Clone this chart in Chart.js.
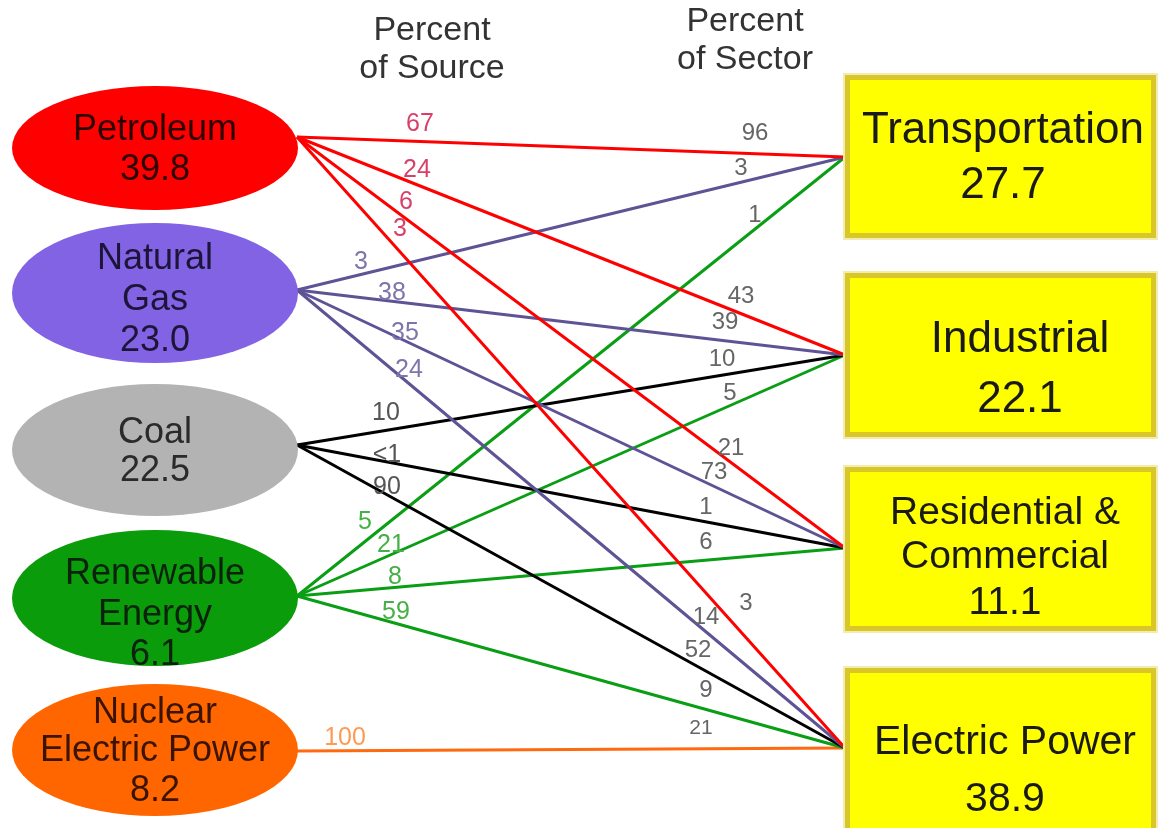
<!DOCTYPE html>
<html>
<head>
<meta charset="utf-8">
<script src="https://cdn.jsdelivr.net/npm/chart.js@4/dist/chart.umd.min.js"></script>
<style>
  html, body { margin: 0; padding: 0; background: #ffffff; }
  #wrap { position: relative; width: 1159px; height: 828px; }
</style>
</head>
<body>
<div id="wrap"><canvas id="c"></canvas></div>
<script>
// ---------- DATA ----------
const sources = ['Petroleum', 'Natural Gas', 'Coal', 'Renewable Energy', 'Nuclear Electric Power'];
const sourceQuads = [39.8, 23.0, 22.5, 6.1, 8.2];
const sectors = ['Transportation', 'Industrial', 'Residential & Commercial', 'Electric Power'];
const sectorQuads = [27.7, 22.1, 11.1, 38.9];

// percent of source going to each sector (Transportation, Industrial, Res&Com, Electric Power)
const petroleumPctOfSource = [67, 24, 6, 3];
const gasPctOfSource       = [3, 38, 35, 24];
const coalPctOfSource      = [null, 10, 0.5, 90];
const renewablePctOfSource = [5, 21, 8, 59];
const nuclearPctOfSource   = [null, null, null, 100];

// percent of sector supplied by each source
const petroleumPctOfSector = [96, 43, 21, 3];
const gasPctOfSector       = [3, 39, 73, 14];
const coalPctOfSector      = [null, 10, 1, 52];
const renewablePctOfSector = [1, 5, 6, 9];
const nuclearPctOfSector   = [null, null, null, 21];

const pctOfSource = [petroleumPctOfSource, gasPctOfSource, coalPctOfSource, renewablePctOfSource, nuclearPctOfSource];
const pctOfSector = [petroleumPctOfSector, gasPctOfSector, coalPctOfSector, renewablePctOfSector, nuclearPctOfSector];

// ---------- LAYOUT / STYLE ----------
const FONT = "'Liberation Sans', Arial, sans-serif";
const srcNodes = [
  { cx: 155, cy: 148, rx: 143, ry: 62, fill: '#ff0000', text: '#2e0000', lines: ['Petroleum'], ty: [130, 170], anchor: [297, 137] },
  { cx: 155, cy: 293, rx: 143, ry: 70, fill: '#8163e4', text: '#1c1538', lines: ['Natural', 'Gas'], ty: [259, 300, 341], anchor: [297, 290] },
  { cx: 155, cy: 450, rx: 143, ry: 66, fill: '#b3b3b3', text: '#2a2a2a', lines: ['Coal'], ty: [433, 471], anchor: [297, 445] },
  { cx: 155, cy: 598, rx: 143, ry: 68, fill: '#0a9c0a', text: '#0c220c', lines: ['Renewable', 'Energy'], ty: [574, 615, 655], anchor: [297, 596] },
  { cx: 155, cy: 750, rx: 143, ry: 66, fill: '#ff6600', text: '#3a1400', lines: ['Nuclear', 'Electric Power'], ty: [713, 751, 791], anchor: [297, 751] }
];
const tgtNodes = [
  { x: 845, y: 75, w: 311, h: 163, lines: ['Transportation'], tx: 1003, ty: [131, 186], anchor: [845, 157], size: 44 },
  { x: 845, y: 273, w: 311, h: 164, lines: ['Industrial'], tx: 1020, ty: [340, 400], anchor: [845, 355], size: 44 },
  { x: 845, y: 467, w: 311, h: 164, lines: ['Residential &', 'Commercial'], tx: 1005, ty: [513, 557, 603], anchor: [845, 548], size: 39 },
  { x: 845, y: 668, w: 311, h: 170, lines: ['Electric Power'], tx: 1005, ty: [743, 800], anchor: [845, 748], size: 41 }
];
const lineColors  = ['#ff0000', '#5e5394', '#000000', '#0a9e14', '#ff6a10'];
const srcLabelColors = ['#d8406a', '#7d76aa', '#555555', '#45b045', '#ff9a55'];
const tgtLabelColor = '#666666';
// label positions [x, y] per source, per sector
const srcLabelPos = [
  [[420, 124], [417, 170], [406, 202], [400, 229]],
  [[361, 262], [392, 293], [405, 333], [409, 370]],
  [null, [386, 413], [387, 455], [387, 487]],
  [[365, 522], [391, 545], [395, 577], [396, 612]],
  [null, null, null, [345, 738]]
];
const tgtLabelPos = [
  [[755, 133], [741, 296], [731, 448], [746, 603]],
  [[741, 168], [725, 322], [714, 472], [706, 617]],
  [null, [722, 359], [706, 507], [698, 650]],
  [[755, 215], [730, 393], [706, 542], [706, 690]],
  [null, null, null, [701, 728]]
];

function fmt(v) { return v < 1 ? '<1' : String(v); }

// ---------- DATASETS ----------
const datasets = [];
pctOfSource.forEach((row, s) => {
  row.forEach((v, t) => {
    if (v === null) return;
    datasets.push({
      label: sources[s] + ' \u2192 ' + sectors[t],
      data: [
        { x: srcNodes[s].anchor[0], y: srcNodes[s].anchor[1] },
        { x: tgtNodes[t].anchor[0], y: tgtNodes[t].anchor[1] }
      ],
      showLine: true,
      borderColor: lineColors[s],
      borderWidth: 3,
      pointRadius: 0,
      fill: false,
      tension: 0
    });
  });
});

const drawPlugin = {
  id: 'flowDiagram',
  afterDatasetsDraw(chart) {
    const ctx = chart.ctx;
    const xs = chart.scales.x, ys = chart.scales.y;
    const X = v => xs.getPixelForValue(v), Y = v => ys.getPixelForValue(v);
    ctx.save();
    ctx.textAlign = 'center';
    ctx.textBaseline = 'middle';

    // source ellipses
    srcNodes.forEach((n, i) => {
      ctx.beginPath();
      ctx.ellipse(X(n.cx), Y(n.cy), Math.abs(X(n.cx + n.rx) - X(n.cx)), Math.abs(Y(n.cy + n.ry) - Y(n.cy)), 0, 0, Math.PI * 2);
      ctx.fillStyle = n.fill;
      ctx.fill();
      ctx.fillStyle = n.text;
      ctx.font = '36px ' + FONT;
      const texts = n.lines.concat([sourceQuads[i].toFixed(1)]);
      texts.forEach((t, k) => ctx.fillText(t, X(n.cx), Y(n.ty[k])));
    });

    // sector boxes
    tgtNodes.forEach((n, i) => {
      ctx.fillStyle = '#f3ecb0';
      ctx.fillRect(X(n.x) - 2, Y(n.y) - 2, n.w + 4, n.h + 4);
      ctx.fillStyle = '#d9c628';
      ctx.fillRect(X(n.x), Y(n.y), n.w, n.h);
      ctx.fillStyle = '#ffff00';
      ctx.fillRect(X(n.x) + 5, Y(n.y) + 5, n.w - 10, n.h - 10);
      ctx.fillStyle = '#1a1a1a';
      ctx.font = n.size + 'px ' + FONT;
      const texts = n.lines.concat([sectorQuads[i].toFixed(1)]);
      texts.forEach((t, k) => ctx.fillText(t, X(n.tx), Y(n.ty[k])));
    });

    // flow labels
    pctOfSource.forEach((row, s) => {
      row.forEach((v, t) => {
        if (v === null) return;
        const p = srcLabelPos[s][t];
        ctx.font = '25px ' + FONT;
        ctx.fillStyle = srcLabelColors[s];
        ctx.fillText(fmt(v), X(p[0]), Y(p[1]));
        const q = tgtLabelPos[s][t];
        const w = pctOfSector[s][t];
        ctx.fillStyle = tgtLabelColor;
        ctx.font = (s === 4 ? '21px ' : '24px ') + FONT;
        ctx.fillText(fmt(w), X(q[0]), Y(q[1]));
      });
    });

    // headers
    ctx.fillStyle = '#333333';
    ctx.font = '34px ' + FONT;
    ctx.fillText('Percent', X(432), Y(31));
    ctx.fillText('of Source', X(432), Y(69));
    ctx.fillText('Percent', X(745), Y(22));
    ctx.fillText('of Sector', X(745), Y(60));
    ctx.restore();
  }
};

new Chart(document.getElementById('c'), {
  type: 'scatter',
  data: { datasets },
  options: {
    responsive: true,
    maintainAspectRatio: false,
    animation: false,
    layout: { padding: 0 },
    plugins: { legend: { display: false }, tooltip: { enabled: false } },
    scales: {
      x: { type: 'linear', min: 0, max: 1159, display: false },
      y: { type: 'linear', min: 0, max: 828, reverse: true, display: false }
    }
  },
  plugins: [drawPlugin]
});
</script>
</body>
</html>
